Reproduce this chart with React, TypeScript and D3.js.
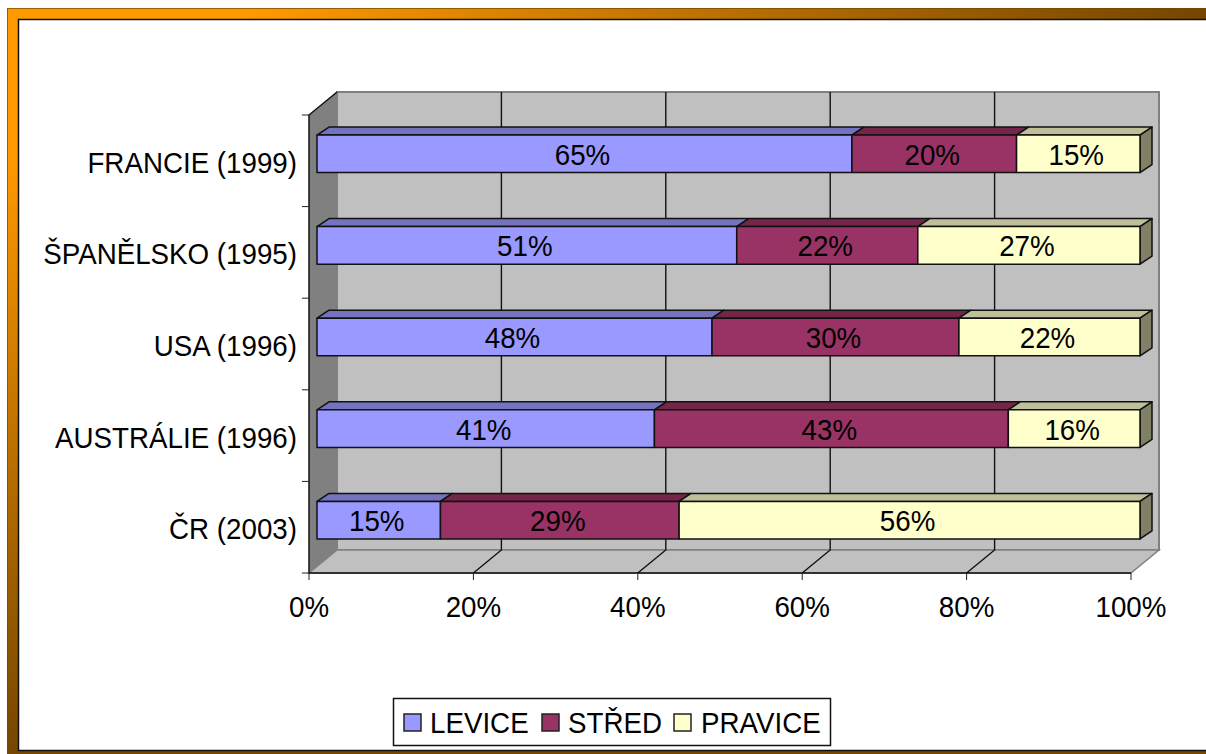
import * as d3 from 'd3';

const categories = ['FRANCIE (1999)', 'ŠPANĚLSKO (1995)', 'USA (1996)', 'AUSTRÁLIE (1996)', 'ČR (2003)'];
const levice = [65, 51, 48, 41, 15];
const stred = [20, 22, 30, 43, 29];
const pravice = [15, 27, 22, 16, 56];
const seriesNames = ['LEVICE', 'STŘED', 'PRAVICE'];
const xTicks = [0, 20, 40, 60, 80, 100];

const colors = ['#9999FF', '#993366', '#FFFFCC'];
const topColors = ['#7373BF', '#732649', '#BFBF99'];
const sideColors = ['#4D4D80', '#4D1A33', '#808066'];

const font = '"Liberation Sans", Arial, sans-serif';
const fontSize = 30;
// the reference text is tall and narrow, so squeeze it sideways
const squeeze = 0.925;

// front plane of the 3D box, the back wall is shifted by depth
const left = 309;
const right = 1131;
const top = 115;
const bottom = 573;
const depthX = 28;
const depthY = -23;
// bars sit a bit inside the box
const barOffX = 8;
const barOffY = -7;
const barDepthX = 12;
const barDepthY = -8;

const x = d3.scaleLinear().domain([0, 100]).range([left, right]);
const y = d3.scaleBand().domain(categories).range([top, bottom]).paddingInner(0.59).paddingOuter(0.295);
const barX = (v: number) => x(v) + barOffX + (v / 100);

const poly = (pts: number[][]) => d3.line()(pts as [number, number][]) + 'Z';

const rows = categories.map((name, i) => {
  const vals = [levice[i], stred[i], pravice[i]];
  let sum = 0;
  return {
    name,
    segs: vals.map((v, s) => {
      const seg = { s, v, from: sum, to: sum + v };
      sum += v;
      return seg;
    }),
  };
});

const legendItems = [
  { swatch: 404, text: 430 },
  { swatch: 542, text: 568 },
  { swatch: 674, text: 701 },
];

function Label({ x, y, anchor, children }: { x: number; y: number; anchor: string; children: React.ReactNode }) {
  return (
    <text transform={`translate(${x},${y}) scale(${squeeze},1)`} textAnchor={anchor} fontSize={fontSize} fill="#000" stroke="none">
      {children}
    </text>
  );
}

export default function App() {
  return (
    <svg width={1206} height={754} style={{ position: 'absolute', left: 0, top: 0, fontFamily: font }}>
      <defs>
        <linearGradient id="frameTop" gradientUnits="userSpaceOnUse" x1="7" y1="0" x2="1206" y2="0">
          <stop offset="0%" stopColor="#FF9900" />
          <stop offset="20%" stopColor="#FF9900" />
          <stop offset="100%" stopColor="#754600" />
        </linearGradient>
        <linearGradient id="frameLeft" gradientUnits="userSpaceOnUse" x1="0" y1="8" x2="0" y2="754">
          <stop offset="0%" stopColor="#FF9900" />
          <stop offset="20%" stopColor="#FF9900" />
          <stop offset="100%" stopColor="#754600" />
        </linearGradient>
      </defs>

      {/* frame */}
      <rect x={7} y={8} width={12} height={746} fill="url(#frameLeft)" />
      <rect x={7} y={750} width={1199} height={4} fill="#754600" />
      <rect x={7} y={8} width={1199} height={12} fill="url(#frameTop)" />
      <line x1={7} x2={1206} y1={8.5} y2={8.5} stroke="#754600" strokeOpacity={0.7} />
      <line x1={7.5} x2={7.5} y1={8} y2={754} stroke="#754600" strokeOpacity={0.7} />
      <rect x={18.5} y={19.5} width={1190} height={731} fill="#fff" stroke="#111" strokeWidth={1.5} />

      {/* walls */}
      <path d={poly([[left, top], [left + depthX, top + depthY], [left + depthX, bottom + depthY], [left, bottom]])} fill="#808080" />
      <rect x={left + depthX} y={top + depthY} width={right - left} height={bottom - top} fill="#C0C0C0" stroke="#808080" strokeWidth={2} />
      <path d={poly([[left, bottom], [left + depthX, bottom + depthY], [right + depthX, bottom + depthY], [right, bottom]])} fill="#C0C0C0" stroke="#808080" strokeWidth={1.5} />

      {/* grid */}
      {xTicks.slice(1, -1).map((t) => (
        <path key={t} d={d3.line()([[x(t), bottom], [x(t) + depthX, bottom + depthY], [x(t) + depthX, top + depthY]]) as string} fill="none" stroke="#111" strokeWidth={1.4} />
      ))}

      {/* axes */}
      <path d={d3.line()([[left + depthX, top + depthY], [left, top], [left, bottom], [right, bottom]]) as string} fill="none" stroke="#111" strokeWidth={1.5} />
      {categories.map((c) => (
        <line key={c} x1={left - 7} x2={left} y1={y(c)! - (y.step() - y.bandwidth()) * 0.295 / 0.59} y2={y(c)! - (y.step() - y.bandwidth()) * 0.295 / 0.59} stroke="#222" />
      ))}
      <line x1={left - 7} x2={left} y1={bottom} y2={bottom} stroke="#222" />
      {xTicks.map((t) => (
        <g key={t}>
          <line x1={x(t)} x2={x(t)} y1={bottom} y2={bottom + 7} stroke="#222" />
          <Label x={x(t)} y={617} anchor="middle">{t}%</Label>
        </g>
      ))}

      {/* category labels */}
      {categories.map((c) => (
        <Label key={c} x={297} y={y(c)! + y.bandwidth() / 2 + 12} anchor="end">{c}</Label>
      ))}

      {/* bars */}
      {rows.map((row) => {
        const y0 = y(row.name)! + barOffY;
        const y1 = y0 + y.bandwidth();
        return (
          <g key={row.name} stroke="#111" strokeWidth={1.5} strokeLinejoin="round">
            {row.segs.map((seg) => (
              <path key={seg.s} d={poly([[barX(seg.from), y0], [barX(seg.from) + barDepthX, y0 + barDepthY], [barX(seg.to) + barDepthX, y0 + barDepthY], [barX(seg.to), y0]])} fill={topColors[seg.s]} />
            ))}
            <path d={poly([[barX(100), y0], [barX(100) + barDepthX, y0 + barDepthY], [barX(100) + barDepthX, y1 + barDepthY], [barX(100), y1]])} fill={sideColors[2]} />
            {row.segs.map((seg) => (
              <rect key={seg.s} x={barX(seg.from)} y={y0} width={barX(seg.to) - barX(seg.from)} height={y1 - y0} fill={colors[seg.s]} />
            ))}
            {row.segs.map((seg) => (
              <Label key={seg.s} x={(barX(seg.from) + barX(seg.to)) / 2 - 2} y={(y0 + y1) / 2 + 11} anchor="middle">{seg.v}%</Label>
            ))}
          </g>
        );
      })}

      {/* legend */}
      <rect x={393.5} y={698.5} width={437} height={47} fill="#fff" stroke="#111" strokeWidth={1.5} />
      {seriesNames.map((n, i) => (
        <g key={n}>
          <rect x={legendItems[i].swatch} y={714} width={17} height={17} fill={colors[i]} stroke="#222" strokeWidth={1.5} />
          <Label x={legendItems[i].text} y={733} anchor="start">{n}</Label>
        </g>
      ))}
    </svg>
  );
}
